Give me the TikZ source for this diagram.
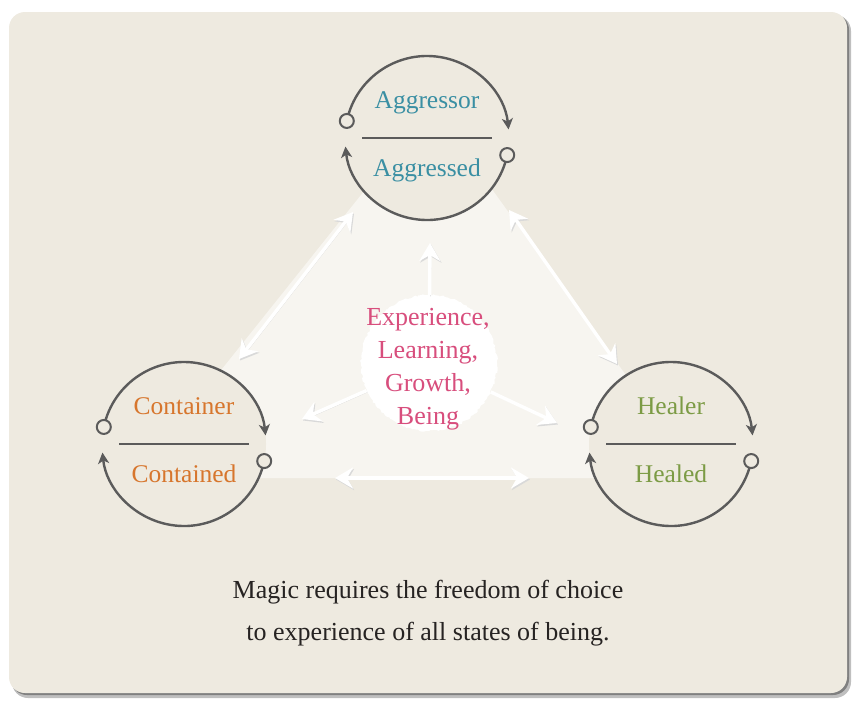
\documentclass[tikz,border=0pt]{standalone}
\usepackage{fontspec}
\setmainfont{Liberation Serif}
\usepackage{tikz}
\usetikzlibrary{arrows.meta,positioning,calc,decorations.pathmorphing}
\definecolor{cardbg}{HTML}{EEEAE0}
\definecolor{veil}{HTML}{F7F5F0}
\definecolor{inkgrey}{HTML}{5B5B5B}
\definecolor{aggteal}{HTML}{3A8FA3}
\definecolor{conorange}{HTML}{D7762D}
\definecolor{healgreen}{HTML}{7C9B45}
\definecolor{coremagenta}{HTML}{D84E7D}
\definecolor{mottoink}{HTML}{262322}

\begin{document}
\begin{tikzpicture}[
  x=1pt, y=1pt,
  wheel/.style={circle, minimum size=164pt, inner sep=0pt, outer sep=0pt,
                fill=cardbg},
  divider/.style={draw=inkgrey, line width=2pt},
  cyclearc/.style={draw=inkgrey, line width=2.4pt,
                   -{Stealth[length=11pt, width=11pt, inset=3pt]}},
  knob/.style={circle, draw=inkgrey, line width=2pt, fill=cardbg,
               minimum size=14pt, inner sep=0pt},
  role/.style={font=\fontsize{25.5}{28}\selectfont, inner sep=0pt},
  core/.style={circle, fill=white, minimum size=136pt, inner sep=0pt,
               decorate, decoration={random steps, segment length=2pt, amplitude=1pt}},
  coretext/.style={font=\fontsize{26}{33}\selectfont, text=coremagenta,
                   align=center, inner sep=0pt},
  chalk/.style={draw=white, line width=3.4pt,
                {Stealth[length=18pt, width=21pt, inset=6pt]}-{Stealth[length=18pt, width=21pt, inset=6pt]},
                preaction={draw=black!15, transform canvas={shift={(1pt,-1.5pt)}}}},
  chalkone/.style={draw=white, line width=3.4pt,
                   -{Stealth[length=18pt, width=21pt, inset=6pt]},
                   preaction={draw=black!15, transform canvas={shift={(1pt,-1.5pt)}}}},
  motto/.style={font=\fontsize{26}{28}\selectfont, text=mottoink, inner sep=0pt},
]

\useasboundingbox (0,0) rectangle (862,-713);

% ---------------- the card ------------------------------------------
\fill[black!25, rounded corners=16pt] (12,-15) rectangle (851,-698);
\fill[black!50, rounded corners=16pt] (11,-14) rectangle (849,-695);
\fill[cardbg, rounded corners=16pt] (9,-12) rectangle (847,-693);

% the pale triangle between the three states
\fill[veil] (432,-106) -- (135,-478) -- (700,-478) -- cycle;

% ---------------- the three state wheels ----------------------------
\foreach \n/\x/\y/\c/\up/\dn in {agg/427/138/aggteal/Aggressor/Aggressed,
                                con/184/444/conorange/Container/Contained,
                                hea/671/444/healgreen/Healer/Healed} {
  \node[wheel] (\n) at (\x,-\y) {};
  \draw[divider] ([xshift=-65pt]\n.center) -- ([xshift=65pt]\n.center);
  \node[role, text=\c, anchor=base] (\n-top) at ([yshift=30pt]\n.center) {\up};
  \node[role, text=\c, anchor=base] (\n-bot) at ([yshift=-38pt]\n.center) {\dn};
  \draw[cyclearc] (\n.168) arc[start angle=168, end angle=6, radius=82pt];
  \draw[cyclearc] (\n.-12) arc[start angle=-12, end angle=-174, radius=82pt];
  \node[knob] (\n-l) at (\n.168) {};
  \node[knob] (\n-r) at (\n.-12) {};
}

% ---------------- chalk arrows along the edges ----------------------
\coordinate (ac1) at (353,-212);
\coordinate (ac2) at (239,-359);
\coordinate (ah1) at (509,-210);
\coordinate (ah2) at (617,-364);
\coordinate (ch1) at (335,-478);
\coordinate (ch2) at (529,-478);
\draw[chalk] (ac2) -- (ac1);
\draw[chalk] (ah1) -- (ah2);
\draw[chalk] (ch1) -- (ch2);

% ---------------- the centre ----------------------------------------
\node[core] (core) at (429,-363) {};
\coordinate (tipup) at (430,-243);
\coordinate (tipleft) at (302,-419);
\coordinate (tipright) at (557,-423);
\foreach \t in {tipup,tipleft,tipright}
  \draw[chalkone] (core) -- (\t);
\node[core, minimum size=128pt, decorate=false] (coreface) at (core) {};
\node[coretext] (corelbl) at (428,-369) {Experience,\\Learning,\\Growth,\\Being};

% ---------------- motto ---------------------------------------------
\node[motto, anchor=base] (motto1) at (428,-598) {Magic requires the freedom of choice};
\node[motto, anchor=base] (motto2) at (428,-640) {to experience of all states of being.};

\end{tikzpicture}
\end{document}
